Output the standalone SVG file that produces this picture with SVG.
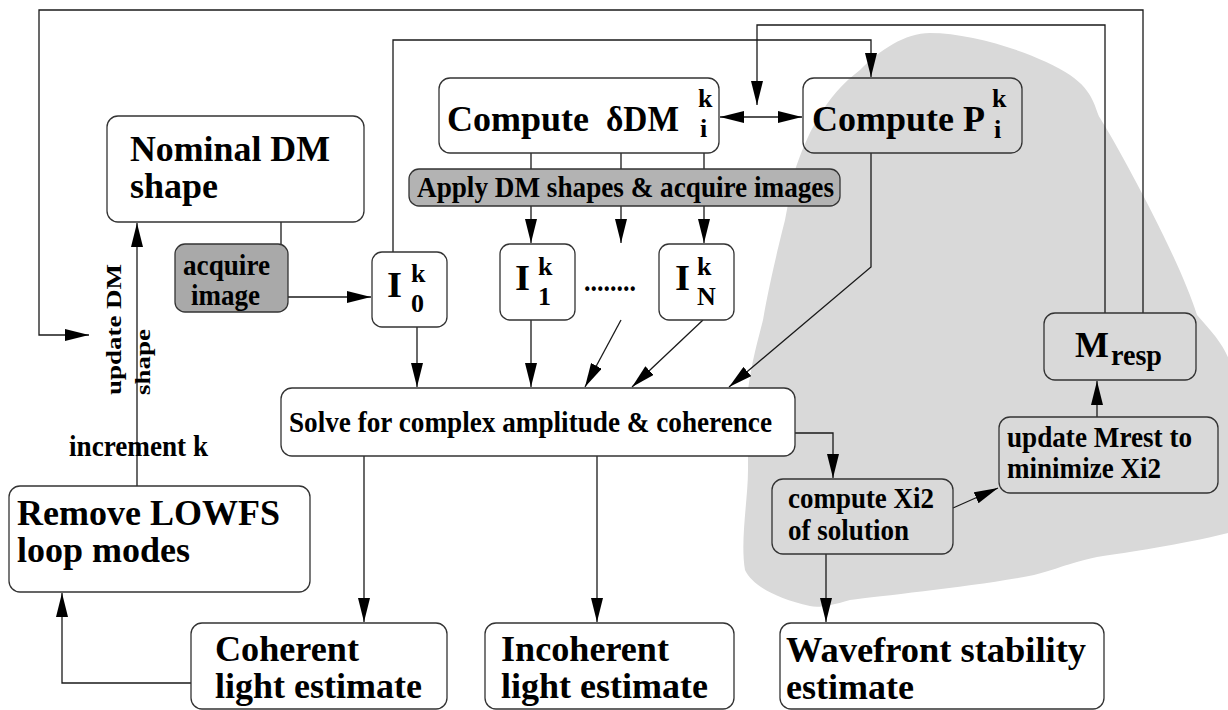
<svg xmlns="http://www.w3.org/2000/svg" width="1228" height="710" viewBox="0 0 1228 710">
<defs>
<style>
.box{fill:#fff;stroke:#333;stroke-width:1.3}
.clear{fill:none;stroke:#333;stroke-width:1.3}
.dark{fill:#a9a9a9;stroke:#333;stroke-width:1.3}
.mid{fill:#b3b3b3;stroke:#333;stroke-width:1.3}
.big{font-family:"Liberation Serif","Times New Roman",serif;font-weight:bold;font-size:36px;fill:#000}
.sm{font-family:"Liberation Serif","Times New Roman",serif;font-weight:bold;font-size:30px;fill:#000}
.rot{font-family:"Liberation Serif","Times New Roman",serif;font-weight:bold;font-size:27px;fill:#000}
.sub{font-family:"Liberation Serif","Times New Roman",serif;font-weight:bold;font-size:26px;fill:#000}
.ln{fill:none;stroke:#1a1a1a;stroke-width:1.3}
.arr{marker-end:url(#ah)}
</style>
<marker id="ah" markerWidth="24" markerHeight="12" refX="24" refY="6" orient="auto-start-reverse" markerUnits="userSpaceOnUse">
<path d="M0,0 L24,6 L0,12 Z" fill="#000"/>
</marker>
</defs>
<rect width="1228" height="710" fill="#fff"/>
<path id="blob" fill="#d9d9d9" d="M930,33 C975,33 1040,55 1070,75 C1095,92 1095,110 1100,118 C1120,150 1180,260 1197,315 C1215,335 1228,350 1232,370 L1232,532 C1180,545 1130,552 1097,557 C1060,565 1050,573 1018,578 C960,588 880,596 850,600 C830,606 818,608 810,606 C775,598 752,585 745,570 C740,540 748,500 748,470 L748,390 C752,360 758,340 763,320 C770,280 780,240 785,220 C790,195 792,180 795,170 C802,150 808,135 817,120 C830,97 843,83 860,70 C880,50 905,33 930,33 Z"/>

<g id="connectors">
<polyline class="ln arr" points="1143,313 1143,10 39,10 39,335 89,335"/>
<polyline class="ln arr" points="1105,313 1105,25 757,25 757,105"/>
<polyline class="ln arr" points="393,252 393,40 871,40 871,77"/>
<line class="ln" x1="720" y1="117" x2="802" y2="117" marker-start="url(#ah)" marker-end="url(#ah)"/>
<line class="ln" x1="281" y1="222" x2="281" y2="244"/>
<line class="ln arr" x1="288" y1="297" x2="371" y2="297"/>
<line class="ln" x1="531" y1="153" x2="531" y2="169"/>
<line class="ln" x1="621" y1="153" x2="621" y2="169"/>
<line class="ln" x1="704" y1="153" x2="704" y2="169"/>
<line class="ln arr" x1="531" y1="206" x2="531" y2="243"/>
<line class="ln arr" x1="621" y1="206" x2="621" y2="243"/>
<line class="ln arr" x1="704" y1="206" x2="704" y2="243"/>
<line class="ln arr" x1="417" y1="327" x2="417" y2="387"/>
<line class="ln arr" x1="531" y1="320" x2="531" y2="387"/>
<line class="ln arr" x1="621" y1="320" x2="585" y2="387"/>
<line class="ln arr" x1="703" y1="320" x2="632" y2="387"/>
<polyline class="ln arr" points="871,153 871,267 729,387"/>
<polyline class="ln arr" points="795,433 833,433 833,478"/>
<line class="ln arr" x1="953" y1="508" x2="998" y2="488"/>
<line class="ln arr" x1="826" y1="554" x2="826" y2="622"/>
<line class="ln arr" x1="1097" y1="417" x2="1097" y2="381"/>
<line class="ln arr" x1="364" y1="456" x2="364" y2="622"/>
<line class="ln arr" x1="597" y1="456" x2="597" y2="622"/>
<polyline class="ln arr" points="191,683 62,683 62,593"/>
<line class="ln arr" x1="137" y1="486" x2="137" y2="223"/>
</g>

<g id="nominal">
<rect class="box" x="107" y="116" width="257" height="106" rx="11"/>
<text class="big" x="130" y="161" textLength="200" lengthAdjust="spacingAndGlyphs">Nominal DM</text>
<text class="big" x="130" y="198" textLength="88" lengthAdjust="spacingAndGlyphs">shape</text>
</g>
<g id="acquire">
<rect class="dark" x="175" y="244" width="113" height="68" rx="10"/>
<text class="sm" x="183" y="275" textLength="87" lengthAdjust="spacingAndGlyphs">acquire</text>
<text class="sm" x="191" y="305" textLength="69" lengthAdjust="spacingAndGlyphs">image</text>
</g>
<g id="computeDM">
<rect class="box" x="439" y="78" width="280" height="75" rx="11"/>
<text class="big" x="447" y="131" textLength="142" lengthAdjust="spacingAndGlyphs">Compute</text>
<text class="big" x="606" y="131" textLength="73" lengthAdjust="spacingAndGlyphs">δDM</text>
<text class="sub" x="698" y="107">k</text>
<text class="sub" x="700" y="137">i</text>
</g>
<g id="computeP">
<rect class="clear" x="803" y="78" width="219" height="75" rx="11"/>
<text class="big" x="812" y="131" textLength="173" lengthAdjust="spacingAndGlyphs">Compute P</text>
<text class="sub" x="992" y="107">k</text>
<text class="sub" x="994" y="138">i</text>
</g>
<g id="apply">
<rect class="mid" x="409" y="169" width="431" height="37" rx="10"/>
<text class="sm" x="417" y="197" textLength="417" lengthAdjust="spacingAndGlyphs">Apply DM shapes &amp; acquire images</text>
</g>
<g id="I0">
<rect class="box" x="372" y="252" width="75" height="75" rx="10"/>
<text class="big" x="387" y="297" textLength="15" lengthAdjust="spacingAndGlyphs">I</text>
<text class="sub" x="411" y="282">k</text>
<text class="sub" x="411" y="312">0</text>
</g>
<g id="I1">
<rect class="box" x="500" y="244" width="75" height="76" rx="10"/>
<text class="big" x="515" y="290" textLength="15" lengthAdjust="spacingAndGlyphs">I</text>
<text class="sub" x="538" y="275">k</text>
<text class="sub" x="538" y="305">1</text>
</g>
<g id="dots">
<text class="sm" x="584" y="291" textLength="52" lengthAdjust="spacingAndGlyphs">........</text>
</g>
<g id="IN">
<rect class="box" x="659" y="244" width="75" height="76" rx="10"/>
<text class="big" x="675" y="290" textLength="15" lengthAdjust="spacingAndGlyphs">I</text>
<text class="sub" x="697" y="275">k</text>
<text class="sub" x="697" y="305">N</text>
</g>
<g id="solve">
<rect class="box" x="281" y="388" width="514" height="68" rx="11"/>
<text class="sm" x="289" y="432" textLength="483" lengthAdjust="spacingAndGlyphs">Solve for complex amplitude &amp; coherence</text>
</g>
<g id="mresp">
<rect class="clear" x="1044" y="313" width="152" height="67" rx="11"/>
<text class="big" x="1075" y="357" textLength="34" lengthAdjust="spacingAndGlyphs">M</text>
<text class="sm" x="1111" y="365" textLength="51" lengthAdjust="spacingAndGlyphs">resp</text>
</g>
<g id="updateMrest">
<rect class="clear" x="999" y="417" width="219" height="76" rx="11"/>
<text class="sm" x="1007" y="447" textLength="185" lengthAdjust="spacingAndGlyphs">update Mrest to</text>
<text class="sm" x="1007" y="478" textLength="154" lengthAdjust="spacingAndGlyphs">minimize Xi2</text>
</g>
<g id="computeXi2">
<rect class="clear" x="772" y="479" width="181" height="75" rx="11"/>
<text class="sm" x="788" y="508" textLength="146" lengthAdjust="spacingAndGlyphs">compute Xi2</text>
<text class="sm" x="788" y="540" textLength="121" lengthAdjust="spacingAndGlyphs">of solution</text>
</g>
<g id="remove">
<rect class="box" x="9" y="486" width="301" height="106" rx="11"/>
<text class="big" x="17" y="525" textLength="263" lengthAdjust="spacingAndGlyphs">Remove LOWFS</text>
<text class="big" x="17" y="562" textLength="173" lengthAdjust="spacingAndGlyphs">loop modes</text>
</g>
<g id="coherent">
<rect class="box" x="191" y="623" width="256" height="86" rx="11"/>
<text class="big" x="215" y="661" textLength="144" lengthAdjust="spacingAndGlyphs">Coherent</text>
<text class="big" x="215" y="698" textLength="207" lengthAdjust="spacingAndGlyphs">light estimate</text>
</g>
<g id="incoherent">
<rect class="box" x="485" y="623" width="249" height="86" rx="11"/>
<text class="big" x="501" y="661" textLength="168" lengthAdjust="spacingAndGlyphs">Incoherent</text>
<text class="big" x="501" y="698" textLength="207" lengthAdjust="spacingAndGlyphs">light estimate</text>
</g>
<g id="wavefront">
<rect class="box" x="780" y="623" width="324" height="86" rx="11"/>
<text class="big" x="786" y="662" textLength="300" lengthAdjust="spacingAndGlyphs">Wavefront stability</text>
<text class="big" x="786" y="699" textLength="128" lengthAdjust="spacingAndGlyphs">estimate</text>
</g>
<g id="labels">
<text class="rot" transform="translate(121,395) rotate(-90) scale(1,0.8)" textLength="131" lengthAdjust="spacingAndGlyphs">update DM</text>
<text class="rot" transform="translate(150,395) rotate(-90) scale(1,0.8)" textLength="66" lengthAdjust="spacingAndGlyphs">shape</text>
<text class="sm" x="69" y="456" textLength="139" lengthAdjust="spacingAndGlyphs">increment k</text>
</g>
</svg>
